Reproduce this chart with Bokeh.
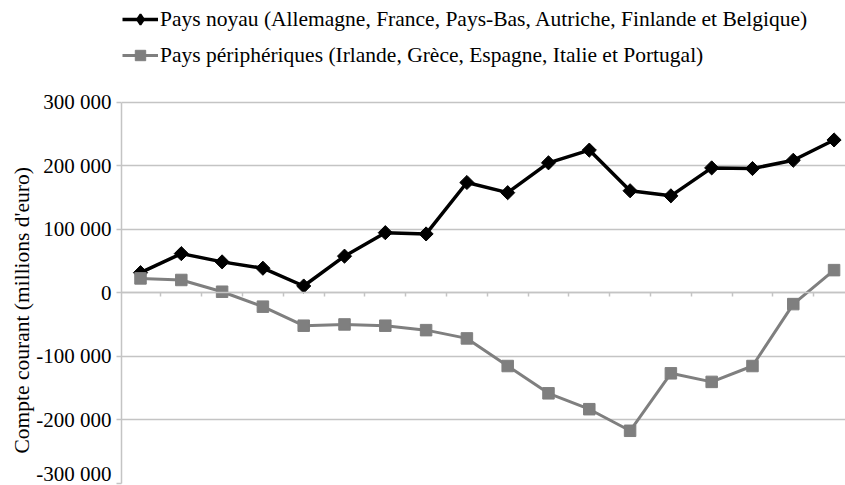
import numpy as np
from bokeh.plotting import figure
from bokeh.models import (Range1d, FixedTicker, Legend, LegendItem, Title,
                          ColumnDataSource, LinearAxis, CustomJSTickFormatter)
from bokeh.embed import file_html
from bokeh.resources import INLINE

# ---- data ----
core_label = "Pays noyau (Allemagne, France, Pays-Bas, Autriche, Finlande et Belgique)"
peri_label = "Pays périphériques (Irlande, Grèce, Espagne, Italie et Portugal)"
core_values = [32000, 62000, 49000, 39000, 11000, 58000, 95000, 93000, 174000,
               158000, 205000, 225000, 161000, 153000, 197000, 196000, 209000, 241000]
peri_values = [23000, 20500, 2000, -21500, -51500, -49500, -51500, -58500, -71500,
               -115000, -158000, -183000, -217000, -126500, -140000, -115000, -17500, 36000]
y_ticks = [-300000, -200000, -100000, 0, 100000, 200000, 300000]
y_tick_labels = ["-300 000", "-200 000", "-100 000", "0", "100 000", "200 000", "300 000"]
y_title = "Compte courant (millions d'euro)"

FONT = "'Liberation Serif', 'Times New Roman', Times, serif"
GRID = "#c4c4c4"
GRAY = "#7f7f7f"

n = len(core_values)
xs = list(range(n))
src = ColumnDataSource(dict(x=xs, core=core_values, peri=peri_values))

W, H = 845, 485
p = figure(width=W, height=H, output_backend="svg", toolbar_location=None,
           x_range=Range1d(-0.466, 17.28),
           y_range=Range1d(-300000, 448000),
           x_axis_location=None,
           min_border_left=121, min_border_right=0, min_border_top=8,
           min_border_bottom=2)
p.outline_line_color = None
p.background_fill_color = "white"
p.border_fill_color = "white"

# y axis
yax = p.yaxis[0]
yax.ticker = FixedTicker(ticks=y_ticks)
yax.major_label_overrides = {t: l for t, l in zip(y_ticks, y_tick_labels)}
yax.bounds = (y_ticks[0], y_ticks[-1])
yax.axis_line_color = GRID
yax.axis_line_width = 1.5
yax.major_tick_line_color = GRID
yax.major_tick_line_width = 1.5
yax.major_tick_out = 5
yax.major_tick_in = 0
yax.minor_tick_line_color = None
yax.major_label_standoff = 5
yax.major_label_text_font = FONT
yax.major_label_text_font_size = "21px"
yax.major_label_text_color = "black"

# category axis drawn on the zero line (ticks between categories, no labels)
xax = LinearAxis(fixed_location=0,
                 ticker=FixedTicker(ticks=[i + 0.5 for i in range(n - 1)]),
                 formatter=CustomJSTickFormatter(code="return ''"),
                 axis_line_color=GRID, axis_line_width=1.5,
                 major_tick_line_color=GRID, major_tick_line_width=1.5,
                 major_tick_out=0, major_tick_in=4,
                 minor_tick_line_color=None,
                 major_label_text_font_size="0px", major_label_standoff=0)
p.add_layout(xax, "above")

p.xgrid.visible = False
p.ygrid.ticker = FixedTicker(ticks=y_ticks)
p.ygrid.grid_line_color = GRID
p.ygrid.grid_line_width = 1.5

# series
l1 = p.line("x", "core", source=src, line_color="black", line_width=3.5)
m1 = p.scatter("x", "core", source=src, marker="square", angle=np.pi / 4,
               size=10, fill_color="black", line_color="black")
l2 = p.line("x", "peri", source=src, line_color=GRAY, line_width=3)
m2 = p.scatter("x", "peri", source=src, marker="square", size=11.5,
               fill_color=GRAY, line_color=GRAY)
# legend-only glyph (diamond) for the core series
d1 = p.scatter("x", "core", source=src, marker="diamond", size=10,
               fill_color="black", line_color="black", line_width=2, visible=False)

legend = Legend(items=[LegendItem(label=core_label, renderers=[l1, d1]),
                       LegendItem(label=peri_label, renderers=[l2, m2])],
                location=(1, 415), orientation="vertical",
                margin=0, padding=0, spacing=10,
                glyph_width=36, glyph_height=26, label_height=20,
                label_standoff=2,
                label_text_font=FONT, label_text_font_size="21.5px",
                label_text_color="black",
                border_line_color=None, background_fill_alpha=0,
                inactive_fill_alpha=0)
p.add_layout(legend)

ttl = Title(text=y_title, align="left", offset=30, standoff=0,
            text_font=FONT, text_font_size="21.5px", text_font_style="normal",
            text_color="black")
p.add_layout(ttl, "left")

open("out.html", "w").write(file_html(p, INLINE))
